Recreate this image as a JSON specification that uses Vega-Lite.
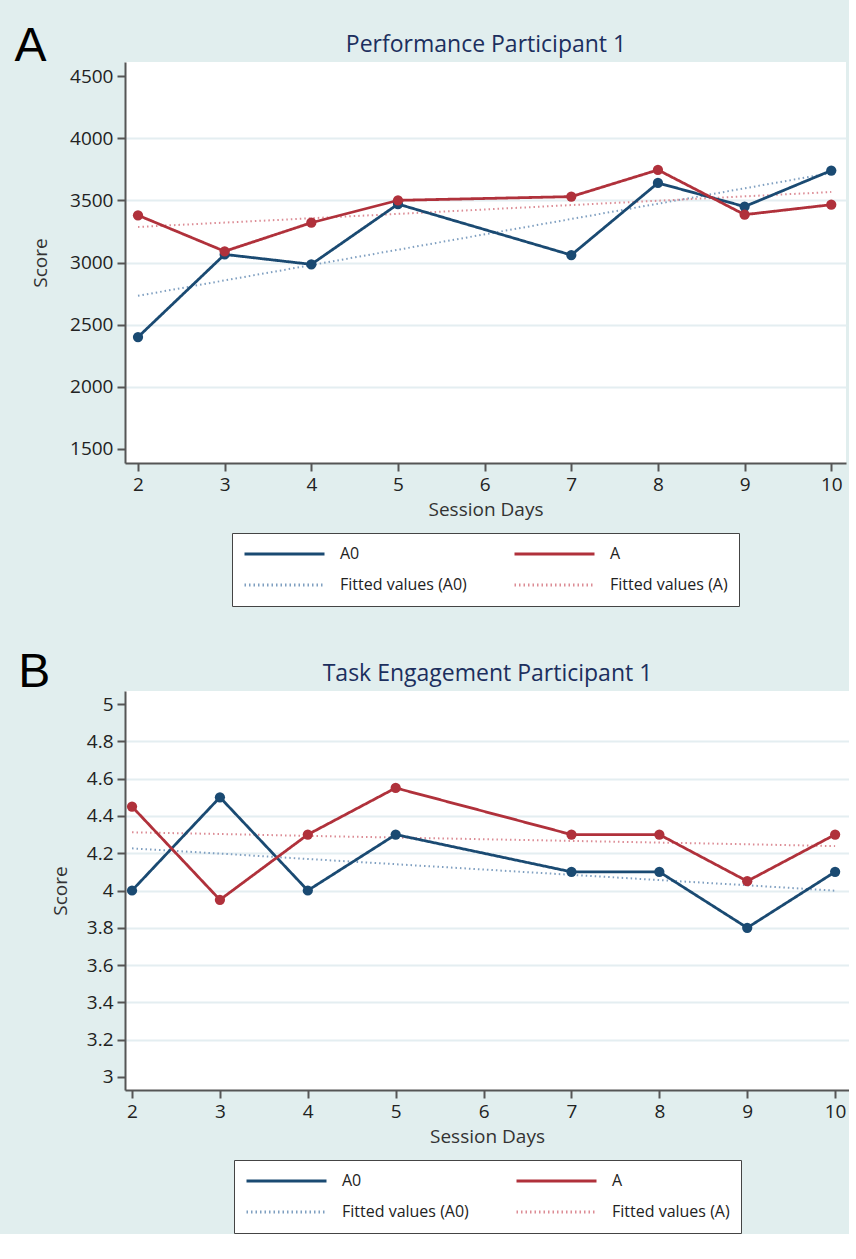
{
  "$schema": "https://vega.github.io/schema/vega-lite/v6.json",
  "background": "#e1eeee",
  "padding": {"left": 14, "top": 23, "right": 0, "bottom": 0},
  "datasets": {
    "perfObs": [
      {"day": 2, "score": 2400, "series": "A0"},
      {"day": 3, "score": 3065, "series": "A0"},
      {"day": 4, "score": 2985, "series": "A0"},
      {"day": 5, "score": 3470, "series": "A0"},
      {"day": 7, "score": 3060, "series": "A0"},
      {"day": 8, "score": 3640, "series": "A0"},
      {"day": 9, "score": 3450, "series": "A0"},
      {"day": 10, "score": 3740, "series": "A0"},
      {"day": 2, "score": 3380, "series": "A"},
      {"day": 3, "score": 3090, "series": "A"},
      {"day": 4, "score": 3320, "series": "A"},
      {"day": 5, "score": 3500, "series": "A"},
      {"day": 7, "score": 3530, "series": "A"},
      {"day": 8, "score": 3745, "series": "A"},
      {"day": 9, "score": 3385, "series": "A"},
      {"day": 10, "score": 3465, "series": "A"}
    ],
    "perfFit": [
      {"day": 2, "score": 2732, "series": "Fitted values (A0)"},
      {"day": 3, "score": 2856, "series": "Fitted values (A0)"},
      {"day": 4, "score": 2979, "series": "Fitted values (A0)"},
      {"day": 5, "score": 3103, "series": "Fitted values (A0)"},
      {"day": 7, "score": 3350, "series": "Fitted values (A0)"},
      {"day": 8, "score": 3473, "series": "Fitted values (A0)"},
      {"day": 9, "score": 3597, "series": "Fitted values (A0)"},
      {"day": 10, "score": 3720, "series": "Fitted values (A0)"},
      {"day": 2, "score": 3286, "series": "Fitted values (A)"},
      {"day": 3, "score": 3321, "series": "Fitted values (A)"},
      {"day": 4, "score": 3356, "series": "Fitted values (A)"},
      {"day": 5, "score": 3391, "series": "Fitted values (A)"},
      {"day": 7, "score": 3462, "series": "Fitted values (A)"},
      {"day": 8, "score": 3497, "series": "Fitted values (A)"},
      {"day": 9, "score": 3532, "series": "Fitted values (A)"},
      {"day": 10, "score": 3567, "series": "Fitted values (A)"}
    ],
    "engObs": [
      {"day": 2, "score": 4.0, "series": "A0"},
      {"day": 3, "score": 4.5, "series": "A0"},
      {"day": 4, "score": 4.0, "series": "A0"},
      {"day": 5, "score": 4.3, "series": "A0"},
      {"day": 7, "score": 4.1, "series": "A0"},
      {"day": 8, "score": 4.1, "series": "A0"},
      {"day": 9, "score": 3.8, "series": "A0"},
      {"day": 10, "score": 4.1, "series": "A0"},
      {"day": 2, "score": 4.45, "series": "A"},
      {"day": 3, "score": 3.95, "series": "A"},
      {"day": 4, "score": 4.3, "series": "A"},
      {"day": 5, "score": 4.55, "series": "A"},
      {"day": 7, "score": 4.3, "series": "A"},
      {"day": 8, "score": 4.3, "series": "A"},
      {"day": 9, "score": 4.05, "series": "A"},
      {"day": 10, "score": 4.3, "series": "A"}
    ],
    "engFit": [
      {"day": 2, "score": 4.226, "series": "Fitted values (A0)"},
      {"day": 3, "score": 4.198, "series": "Fitted values (A0)"},
      {"day": 4, "score": 4.169, "series": "Fitted values (A0)"},
      {"day": 5, "score": 4.141, "series": "Fitted values (A0)"},
      {"day": 7, "score": 4.084, "series": "Fitted values (A0)"},
      {"day": 8, "score": 4.056, "series": "Fitted values (A0)"},
      {"day": 9, "score": 4.028, "series": "Fitted values (A0)"},
      {"day": 10, "score": 3.999, "series": "Fitted values (A0)"},
      {"day": 2, "score": 4.312, "series": "Fitted values (A)"},
      {"day": 3, "score": 4.303, "series": "Fitted values (A)"},
      {"day": 4, "score": 4.293, "series": "Fitted values (A)"},
      {"day": 5, "score": 4.284, "series": "Fitted values (A)"},
      {"day": 7, "score": 4.266, "series": "Fitted values (A)"},
      {"day": 8, "score": 4.257, "series": "Fitted values (A)"},
      {"day": 9, "score": 4.248, "series": "Fitted values (A)"},
      {"day": 10, "score": 4.238, "series": "Fitted values (A)"}
    ]
  },
  "concat": [
    {
      "width": 721,
      "height": 401,
      "title": {"text": "A", "anchor": "start", "frame": "bounds", "font": "Liberation Sans", "fontSize": 48, "fontWeight": "normal", "color": "#000000", "offset": -76, "dx": -17, "baseline": "alphabetic"},
      "encoding": {
        "y": {"field": "score", "type": "quantitative",
          "scale": {"domain": [1387, 4613], "nice": false, "zero": false},
          "axis": {"title": "Score", "values": [1500, 2000, 2500, 3000, 3500, 4000, 4500], "format": "d", "titlePadding": 19,
            "gridOpacity": {"condition": {"test": "datum.value === 1500 || datum.value === 4500", "value": 0}, "value": 1}}},
        "strokeDash": {"field": "series", "type": "nominal",
          "scale": {"domain": ["A0", "A", "Fitted values (A0)", "Fitted values (A)"], "range": [[1, 0], [1, 0], [1.5, 3], [1.5, 3]]},
          "legend": {"title": null}},
        "color": {"field": "series", "type": "nominal",
          "scale": {"domain": ["A0", "A", "Fitted values (A0)", "Fitted values (A)"], "range": ["#1a4a72", "#b0313b", "#7f9fc0", "#dc8c95"]},
          "legend": {"title": null}}
      },
      "layer": [
        {
          "data": {"name": "perfFit"},
          "mark": {"type": "line", "strokeWidth": 2},
          "encoding": {
            "x": {"field": "day", "type": "quantitative", "scale": {"domain": [1.85, 10.17], "nice": false, "zero": false},
              "axis": {"orient": "top", "title": "Performance Participant 1", "titleFont": "Open Sans", "titleFontSize": 23, "titleColor": "#1c2f5e", "titleFontWeight": "normal",
                "labels": false, "ticks": false, "domain": false, "grid": false, "minExtent": 0, "maxExtent": 0, "titlePadding": 11, "titleBaseline": "alphabetic"}}
          }
        },
        {
          "data": {"name": "perfObs"},
          "mark": {"type": "line", "strokeWidth": 2.8, "point": {"filled": true, "size": 105, "opacity": 1}},
          "encoding": {
            "x": {"field": "day", "type": "quantitative", "scale": {"domain": [1.85, 10.17], "nice": false, "zero": false},
              "axis": {"orient": "bottom", "title": "Session Days", "values": [2, 3, 4, 5, 6, 7, 8, 9, 10], "grid": false}}
          }
        }
      ],
      "resolve": {"axis": {"x": "independent"}}
    },
    {
      "width": 724,
      "height": 399,
      "title": {"text": "B", "anchor": "start", "frame": "bounds", "font": "Liberation Sans", "fontSize": 48, "fontWeight": "normal", "color": "#000000", "offset": -73, "dx": -33, "baseline": "alphabetic"},
      "encoding": {
        "y": {"field": "score", "type": "quantitative",
          "scale": {"domain": [2.93, 5.07], "nice": false, "zero": false},
          "axis": {"title": "Score", "values": [3, 3.2, 3.4, 3.6, 3.8, 4, 4.2, 4.4, 4.6, 4.8, 5], "format": ".1~f", "titlePadding": 16,
            "gridOpacity": {"condition": {"test": "datum.value === 3 || datum.value === 5", "value": 0}, "value": 1}}},
        "strokeDash": {"field": "series", "type": "nominal",
          "scale": {"domain": ["A0", "A", "Fitted values (A0)", "Fitted values (A)"], "range": [[1, 0], [1, 0], [1.5, 3], [1.5, 3]]},
          "legend": {"title": null}},
        "color": {"field": "series", "type": "nominal",
          "scale": {"domain": ["A0", "A", "Fitted values (A0)", "Fitted values (A)"], "range": ["#1a4a72", "#b0313b", "#7f9fc0", "#dc8c95"]},
          "legend": {"title": null}}
      },
      "layer": [
        {
          "data": {"name": "engFit"},
          "mark": {"type": "line", "strokeWidth": 2},
          "encoding": {
            "x": {"field": "day", "type": "quantitative", "scale": {"domain": [1.92, 10.158], "nice": false, "zero": false},
              "axis": {"orient": "top", "title": "Task Engagement Participant 1", "titleFont": "Open Sans", "titleFontSize": 23, "titleColor": "#1c2f5e", "titleFontWeight": "normal",
                "labels": false, "ticks": false, "domain": false, "grid": false, "minExtent": 0, "maxExtent": 0, "titlePadding": 11, "titleBaseline": "alphabetic"}}
          }
        },
        {
          "data": {"name": "engObs"},
          "mark": {"type": "line", "strokeWidth": 2.8, "point": {"filled": true, "size": 105, "opacity": 1}},
          "encoding": {
            "x": {"field": "day", "type": "quantitative", "scale": {"domain": [1.92, 10.158], "nice": false, "zero": false},
              "axis": {"orient": "bottom", "title": "Session Days", "values": [2, 3, 4, 5, 6, 7, 8, 9, 10], "grid": false}}
          }
        }
      ],
      "resolve": {"axis": {"x": "independent"}}
    }
  ],
  "columns": 1,
  "spacing": 42,
  "resolve": {"scale": {"x": "independent", "y": "independent", "color": "independent", "strokeDash": "independent"}, "legend": {"color": "independent", "strokeDash": "independent"}},
  "config": {
    "view": {"stroke": null, "fill": "#ffffff"},
    "font": "Open Sans",
    "axis": {
      "labelFont": "Open Sans", "labelFontSize": 19, "labelColor": "#222222", "labelPadding": 4,
      "titleFont": "Open Sans", "titleFontSize": 19, "titleColor": "#333333", "titleFontWeight": "normal",
      "domainColor": "#555555", "domainWidth": 2, "tickColor": "#555555", "tickWidth": 2, "tickSize": 8,
      "gridColor": "#e4eef1", "gridWidth": 2
    },
    "axisX": {"titlePadding": 6},
    "axisY": {"labelAngle": 0},
    "legend": {
      "orient": "bottom", "columns": 2, "direction": "horizontal",
      "symbolType": "stroke", "symbolSize": 6400, "symbolStrokeWidth": 2.8, "clipHeight": 20, "symbolOffset": 0, "labelOffset": 14,
      "columnPadding": 46, "rowPadding": 11, "padding": 11, "gridAlign": "all",
      "strokeColor": "#444444", "fillColor": "#ffffff", "offset": 14,
      "labelFont": "Open Sans", "labelFontSize": 16, "labelColor": "#222222",
      "layout": {"bottom": {"anchor": "middle"}}
    }
  }
}
